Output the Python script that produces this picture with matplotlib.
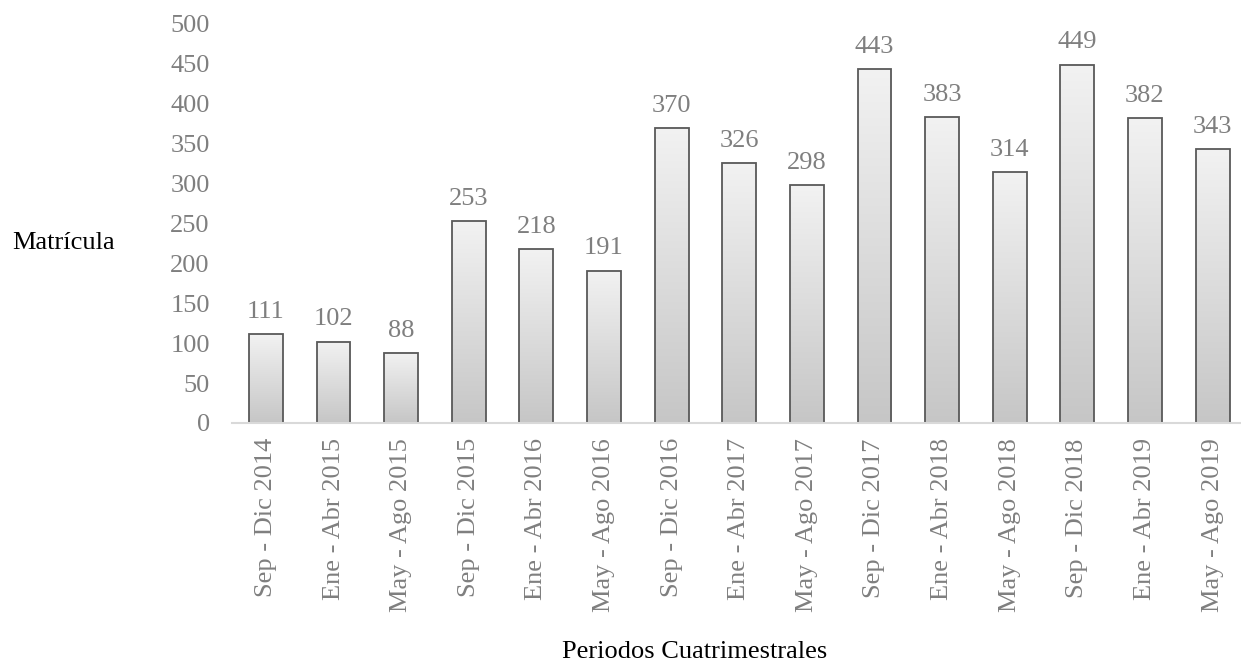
"""
Matrícula por periodo cuatrimestral
"""
import matplotlib
matplotlib.use("Agg")
import matplotlib.pyplot as plt
import numpy as np

periodos = ["Sep - Dic 2014", "Ene - Abr 2015", "May - Ago 2015",
            "Sep - Dic 2015", "Ene - Abr 2016", "May - Ago 2016",
            "Sep - Dic 2016", "Ene - Abr 2017", "May - Ago 2017",
            "Sep - Dic 2017", "Ene - Abr 2018", "May - Ago 2018",
            "Sep - Dic 2018", "Ene - Abr 2019", "May - Ago 2019"]
matricula = [111, 102, 88, 253, 218, 191, 370, 326, 298,
             443, 383, 314, 449, 382, 343]
y_ticks = [0, 50, 100, 150, 200, 250, 300, 350, 400, 450, 500]

plt.rcParams['font.family'] = ['Liberation Serif', 'DejaVu Serif']
gris = '#7f7f7f'
tam = 19

fig = plt.figure(figsize=(12.41, 6.65), dpi=100)
ax = fig.add_axes([0.187, 0.364, 0.813, 0.6])

x = np.arange(len(matricula))
ancho = 0.5

# Degradado vertical dentro de cada barra
grad = np.linspace(1, 0, 256).reshape(-1, 1)
cmap = matplotlib.colors.LinearSegmentedColormap.from_list(
    "g", ["#c6c6c6", "#f2f2f2"])
for xi, v in zip(x, matricula):
    ax.imshow(grad, cmap=cmap, aspect='auto', origin='upper',
              extent=(xi - ancho / 2, xi + ancho / 2, 0, v), zorder=2)

barras = ax.bar(x, matricula, width=ancho, facecolor='none',
                edgecolor='#595959', linewidth=1.3, zorder=3)

for xi, v in zip(x, matricula):
    ax.text(xi, v + 14, str(v), ha='center', va='bottom',
            fontsize=tam, color=gris)

ax.set_xlim(-0.5, 14.42)
ax.set_ylim(0, 500)
ax.set_yticks(y_ticks)
ax.set_xticks(x)
ax.set_xticklabels(periodos, rotation=90, fontsize=tam, color=gris)
ax.tick_params(axis='y', length=0, pad=16, labelsize=tam, labelcolor=gris)
ax.tick_params(axis='x', length=0, pad=11)

for lado in ['top', 'right', 'left']:
    ax.spines[lado].set_visible(False)
ax.spines['bottom'].set_color('#d9d9d9')
ax.spines['bottom'].set_linewidth(1.5)
ax.spines['bottom'].set_zorder(4)

fig.text(0.010, 0.635, "Matrícula", fontsize=tam, color='black',
         ha='left', va='center')
fig.text(0.56, 0.003, "Periodos Cuatrimestrales", fontsize=tam,
         color='black', ha='center', va='bottom')

fig.savefig("out.png", dpi=100)
